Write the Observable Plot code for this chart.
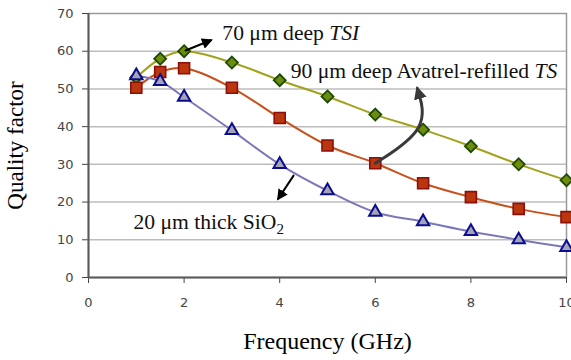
<!DOCTYPE html>
<html><head><meta charset="utf-8">
<script src="https://cdn.jsdelivr.net/npm/d3@7"></script>
<script src="https://cdn.jsdelivr.net/npm/@observablehq/plot@0.6"></script>
<style>body{margin:0;background:#fff} svg{display:block}</style>
</head><body><div id="chart"></div>
<script>
// Frequencies (GHz)
const freq = [1, 1.5, 2, 3, 4, 5, 6, 7, 8, 9, 10];
// Quality factor series
const qTSI  = [53, 58, 60, 57, 52.3, 48, 43.2, 39.2, 34.8, 30, 25.8];      // 70 µm deep TSI
const qTS   = [50.3, 54.5, 55.5, 50.3, 42.3, 35, 30.3, 25, 21.3, 18.2, 16]; // 90 µm Avatrel-refilled TS
const qSiO2 = [53.5, 52, 47.8, 39, 30, 23, 17.3, 14.8, 12.2, 10, 8];     // 20 µm thick SiO2
// Tick labels
const xTicks = [0, 2, 4, 6, 8, 10];
const yTicks = [0, 10, 20, 30, 40, 50, 60, 70];
// Annotation labels (anchored in data units)
const labelText = ["70 \u03bcm deep *TSI*", "90 \u03bcm deep Avatrel-refilled *TS*", "20 \u03bcm thick SiO_2_"];
const labelX = [2.80, 4.23, 0.94];
const labelY = [64.9, 54.8, 14.8];
// Annotation arrows (data units)
const arrowId = ["tsi", "tsi", "sio2", "sio2"];
const arrowX = [2.03, 2.56, 4.29, 3.97];
const arrowY = [60.2, 62.9, 27.0, 20.9];
const curveX = [6.0, 7.13, 6.88];
const curveY = [30.3, 39.5, 50.1];

const rows = (ys) => freq.map((f, i) => ({x: f, y: ys[i]}));
const tsi = rows(qTSI), ts = rows(qTS), sio2 = rows(qSiO2);
const labels = labelText.map((t, i) => ({t, x: labelX[i], y: labelY[i]}));
const arrows = arrowId.map((id, i) => ({id, x: arrowX[i], y: arrowY[i]}));
const curved = curveX.map((x, i) => ({x, y: curveY[i]}));

const serif = "Liberation Serif";
const sans = "DejaVu Sans";

const chart = Plot.plot({
  width: 571, height: 360,
  marginLeft: 88, marginRight: 5, marginTop: 13, marginBottom: 83,
  x: {domain: [0, 10]},
  y: {domain: [0, 70]},
  style: {background: "#fff", fontFamily: sans},
  marks: [
    Plot.gridY(yTicks.filter(d => d > 0 && d < 70), {stroke: "#bdbdbd", strokeOpacity: 1, strokeWidth: 1.5}),
    Plot.frame({stroke: "#9a9a9a", strokeWidth: 1.5}),
    Plot.axisX(xTicks, {tickSize: 6, tickPadding: 14, fontSize: 13, color: "#444", label: null}),
    Plot.axisY(yTicks, {tickSize: 6, tickPadding: 9, fontSize: 13, color: "#444", label: null}),
    Plot.axisX({ticks: [], label: "Frequency (GHz)", labelAnchor: "center", labelArrow: "none", labelOffset: 71, fontFamily: serif, fontSize: 24, color: "#000"}),
    Plot.axisY({ticks: [], label: "Quality factor", labelAnchor: "center", labelArrow: "none", labelOffset: 82, fontFamily: serif, fontSize: 23, color: "#000"}),
    Plot.ruleX([0], {stroke: "#5a5a5a", strokeWidth: 2}),
    Plot.ruleY([0], {stroke: "#5a5a5a", strokeWidth: 2}),
    Plot.line(tsi, {x: "x", y: "y", curve: "catmull-rom", stroke: "#a2a21c", strokeWidth: 2}),
    Plot.line(ts, {x: "x", y: "y", curve: "catmull-rom", stroke: "#c8501a", strokeWidth: 2}),
    Plot.line(sio2, {x: "x", y: "y", curve: "catmull-rom", stroke: "#7a78b8", strokeWidth: 2}),
    Plot.dot(tsi, {x: "x", y: "y", symbol: "diamond2", r: 5.4, fill: "#6f8d0c", stroke: "#1d4a05", strokeWidth: 1.8}),
    Plot.dot(ts, {x: "x", y: "y", symbol: "square", r: 6.2, fill: "#b9360f", stroke: "#8c0f0a", strokeWidth: 1.6}),
    Plot.dot(sio2, {x: "x", y: "y", symbol: "triangle", r: 4.6, fill: "#a4a4b4", stroke: "#0c0c8e", strokeWidth: 2}),
    Plot.line(arrows, {x: "x", y: "y", z: "id", stroke: "#000", strokeWidth: 2, className: "ann"}),
    Plot.line(curved, {x: "x", y: "y", curve: "basis", stroke: "#3a3a3a", strokeWidth: 3, className: "ann2"}),
    Plot.text(labels, {x: "x", y: "y", text: "t", textAnchor: "start", fontFamily: serif, fontSize: 21.6, fill: "#111", className: "lbl"})
  ]
});

const ns = "http://www.w3.org/2000/svg";
const svg = d3.select(chart);
const defs = svg.append("defs");
function marker(id, w, color) {
  defs.append("marker").attr("id", id).attr("viewBox", "0 0 10 10")
    .attr("refX", 8).attr("refY", 5).attr("markerWidth", w).attr("markerHeight", w)
    .attr("markerUnits", "userSpaceOnUse").attr("orient", "auto")
    .append("path").attr("d", "M0,0L10,5L0,10Z").attr("fill", color);
}
marker("ah", 11, "#000");
marker("ah2", 13, "#3a3a3a");
svg.selectAll("g.ann path").attr("marker-end", "url(#ah)");
svg.selectAll("g.ann2 path").attr("marker-end", "url(#ah2)");

svg.selectAll("g.lbl").style("font-family", serif);
svg.selectAll("g.lbl text").style("font-family", serif).each(function() {
  const s = this.textContent;
  this.textContent = "";
  for (const p of s.split(/(\*[^*]+\*|_[^_]+_)/).filter(Boolean)) {
    const t = document.createElementNS(ns, "tspan");
    if (p.startsWith("*")) { t.setAttribute("font-style", "italic"); t.textContent = p.slice(1, -1); }
    else if (p.startsWith("_")) { t.setAttribute("font-size", "15"); t.setAttribute("dy", "5"); t.textContent = p.slice(1, -1); }
    else t.textContent = p;
    this.appendChild(t);
  }
});

document.getElementById("chart").appendChild(chart);
</script>
</body></html>
